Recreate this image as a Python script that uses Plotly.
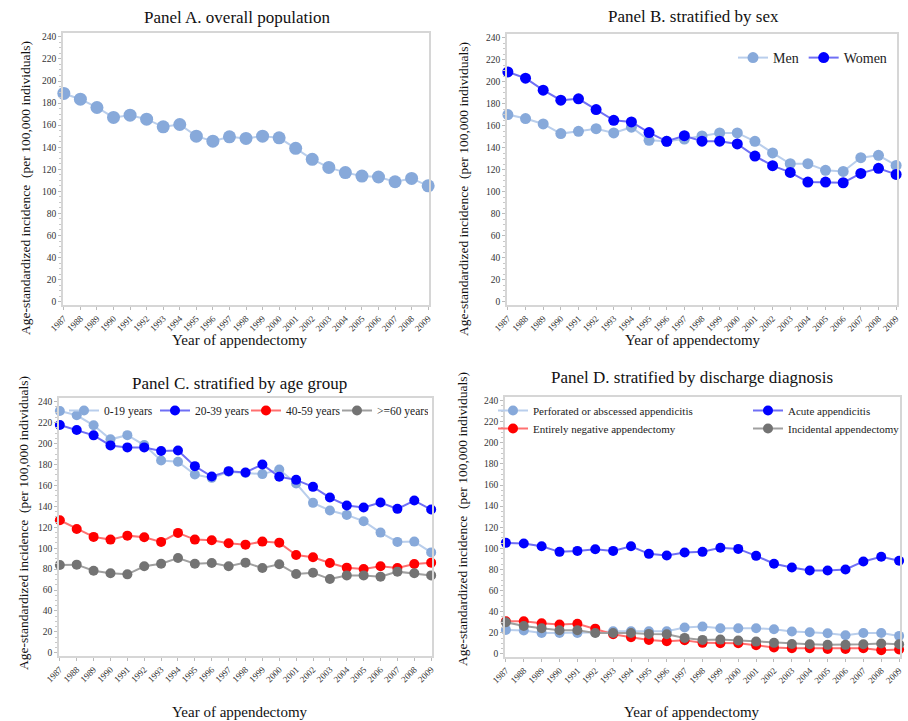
import plotly.graph_objects as go

years = list(range(1987, 2010))
year_labels = [str(y) for y in years]

# Panel A
overall = [188.7, 183.5, 176, 167, 169, 165.4, 158.5, 160.6, 150, 145.5, 149.4, 148, 150, 148.5,
           139, 129, 121.7, 117, 113.8, 113, 108.7, 111.7, 105]

# Panel B
men = [170.2, 166.6, 161.7, 152.9, 155, 157.4, 153.5, 158.7, 146.8, 145.9, 148, 150.8, 153.5, 153.5,
       145.9, 135.3, 125.5, 125.5, 119.5, 118.5, 131, 133.1, 124]
women = [209, 203.3, 192.4, 183.3, 184.5, 174.8, 165, 163.5, 153.8, 145.9, 151, 146, 146, 143.5,
         132.5, 123.7, 117.6, 108.8, 108.8, 108.2, 116.7, 121.3, 115.8]

# Panel C
age_0_19 = [231, 227, 217.4, 204, 208, 198.5, 183.8, 182.6, 170.4, 167.2, 173, 172, 170.8, 175.2,
            161.8, 143.3, 136, 131.8, 125.8, 114.9, 106, 106.3, 96]
age_20_39 = [217.7, 212.9, 207.8, 198.2, 196.3, 196.3, 192.8, 193.4, 178.4, 168.5, 173.6, 172.4, 180, 168.2,
             165.3, 158.6, 148.4, 140.8, 138.8, 143.6, 137.6, 145.5, 136.9]
age_40_59 = [126.7, 118.4, 110.8, 108.2, 112, 110.4, 106, 114.6, 108.2, 107.6, 104.7, 103.4, 106.3, 105.3,
             93.5, 91.3, 85.9, 81.4, 80.1, 82.7, 81.1, 84.9, 86.2]
age_60p = [83.9, 84.3, 78.5, 76, 75, 82.7, 85.2, 90.6, 85.2, 85.9, 82.7, 86.2, 81.1, 84.6,
           75.3, 76.6, 70.5, 74, 74, 72.8, 77.6, 76, 74]

# Panel D
perforated = [22.7, 22.1, 19.8, 19.8, 19.8, 20.2, 21.4, 21.4, 21.4, 21.4, 24.9, 25.8, 24.2, 24.2,
              24.2, 23.3, 21.1, 20.5, 19.5, 17.6, 19.8, 19.8, 17.0]
acute = [105.2, 104.6, 102, 96.7, 97.6, 99.2, 97.6, 102, 94.8, 93.2, 96, 96.7, 100.5, 99.5,
         92.9, 85.4, 81.9, 79, 79, 80, 87.6, 92, 88.2]
negative = [30.9, 30.9, 28.9, 27.7, 28.6, 23.9, 18.6, 15.7, 13.2, 12, 12.9, 10.4, 10.1, 10.1,
            8.2, 6.0, 5.4, 5.4, 4.7, 4.7, 5.4, 3.5, 4.1]
incidental = [30, 26.4, 24.2, 22.4, 22.4, 19.8, 19.8, 19.8, 18.9, 18.6, 15.1, 13.2, 13.5, 12.6,
              11.6, 10.4, 9.4, 9.1, 8.5, 8.5, 9.1, 9.8, 9.1]

LB_M, LB_L = "#87A9DA", "#B9CEEC"
B_M, B_L = "#0000FF", "#6F6FF5"
R_M, R_L = "#FF0000", "#FF7070"
G_M, G_L = "#737373", "#A0A0A0"

FONT = "Liberation Serif, Times New Roman, serif"

fig = go.Figure()

def add(y, name, mc, lc, xa, ya, size, legend=None, show=False):
    fig.add_trace(go.Scatter(
        x=years, y=y, name=name, mode="lines+markers",
        line=dict(color=lc, width=2),
        marker=dict(color=mc, size=size, line=dict(width=0)),
        xaxis=xa, yaxis=ya, showlegend=show, legend=legend, cliponaxis=False))

add(overall, "Overall", LB_M, LB_L, "x", "y", 13)
add(men, "Men", LB_M, LB_L, "x2", "y2", 11, "legend", True)
add(women, "Women", B_M, B_L, "x2", "y2", 11, "legend", True)
add(age_0_19, "0-19 years", LB_M, LB_L, "x3", "y3", 10, "legend2", True)
add(age_20_39, "20-39 years", B_M, B_L, "x3", "y3", 10, "legend2", True)
add(age_40_59, "40-59 years", R_M, R_L, "x3", "y3", 10, "legend2", True)
add(age_60p, ">=60 years", G_M, G_L, "x3", "y3", 10, "legend2", True)
add(perforated, "Perforated or abscessed appendicitis", LB_M, LB_L, "x4", "y4", 10, "legend3", True)
add(acute, "Acute appendicitis", B_M, B_L, "x4", "y4", 10, "legend3", True)
add(negative, "Entirely negative appendectomy", R_M, R_L, "x4", "y4", 10, "legend4", True)
add(incidental, "Incidental appendectomy", G_M, G_L, "x4", "y4", 10, "legend4", True)

W, H = 908, 721
domains = {
    "1": ([63 / W, 429 / W], [1 - 305 / H, 1 - 33 / H]),
    "2": ([507 / W, 897 / W], [1 - 305 / H, 1 - 34 / H]),
    "3": ([59 / W, 432 / W], [1 - 656 / H, 1 - 398 / H]),
    "4": ([505 / W, 900 / W], [1 - 657 / H, 1 - 397 / H]),
}

layout = dict(
    width=W, height=H, margin=dict(l=0, r=0, t=0, b=0, autoexpand=False),
    paper_bgcolor="white", plot_bgcolor="white",
    font=dict(family=FONT, color="#222222"),
)
for k, (dx, dy) in domains.items():
    sx = "" if k == "1" else k
    layout["xaxis" + sx] = dict(
        domain=dx, anchor="y" + sx, range=[1986.95, 2009.05],
        tickmode="array", tickvals=years, ticktext=year_labels, tickangle=-45,
        tickfont=dict(size=9, family=FONT, color="#333333"),
        showgrid=False, zeroline=False, showline=True, linecolor="#D6D6D6", linewidth=1.5, mirror=True,
        ticks="outside", ticklen=3, tickcolor="#BBBBBB", automargin=False)
    layout["yaxis" + sx] = dict(
        domain=dy, anchor="x" + sx, range=[-3, 243.5],
        tickmode="array", tickvals=list(range(0, 241, 20)),
        tickfont=dict(size=9.5, family=FONT, color="#333333"),
        showgrid=False, zeroline=False, showline=True, linecolor="#D6D6D6", linewidth=1.5, mirror=True,
        ticks="outside", ticklen=3, tickcolor="#BBBBBB", automargin=False,
        minor=dict(ticks="outside", ticklen=2, dtick=5, tickcolor="#C8C8C8"))

leg_common = dict(orientation="h", bgcolor="rgba(0,0,0,0)", itemwidth=30, tracegroupgap=0,
                  xanchor="left", yanchor="top")
layout["legend"] = dict(x=733 / W, y=1 - 42 / H,
                        font=dict(size=14, family=FONT, color="#222222"), **leg_common)
layout["legend2"] = dict(x=64 / W, y=1 - 396 / H, entrywidth=46,
                         font=dict(size=11.5, family=FONT, color="#222222"), **leg_common)
layout["legend3"] = dict(x=493 / W, y=1 - 396 / H, entrywidth=210,
                         font=dict(size=11, family=FONT, color="#222222"), **leg_common)
layout["legend4"] = dict(x=493 / W, y=1 - 414 / H, entrywidth=210,
                         font=dict(size=11, family=FONT, color="#222222"), **leg_common)

ytitle = "Age-standardized incidence  (per 100,000 individuals)"
ann = []
for (txt, x, y) in [("Panel A. overall population", 238, 18),
                    ("Panel B. stratified by sex", 693, 17),
                    ("Panel C. stratified by age group", 239, 383),
                    ("Panel D. stratified by discharge diagnosis", 692, 377)]:
    ann.append(dict(text=txt, x=x / W, y=1 - y / H, xref="paper", yref="paper", showarrow=False,
                    xanchor="center", yanchor="middle", font=dict(size=17, family=FONT, color="#111111")))
for (x, y) in [(240, 340), (693, 340), (240, 712), (692, 712)]:
    ann.append(dict(text="Year of appendectomy", x=x / W, y=1 - y / H, xref="paper", yref="paper",
                    showarrow=False, xanchor="center", yanchor="middle",
                    font=dict(size=15, family=FONT, color="#111111")))
for (x, y) in [(25, 188), (463, 189), (23, 523), (462, 519)]:
    ann.append(dict(text=ytitle, x=x / W, y=1 - y / H, xref="paper", yref="paper", showarrow=False,
                    textangle=-90, xanchor="center", yanchor="middle",
                    font=dict(size=13.5, family=FONT, color="#111111")))
layout["annotations"] = ann

fig.update_layout(**layout)
fig.write_html("out.html", config={"displayModeBar": False},
               post_script="document.body.style.margin='0px';document.body.style.overflow='hidden';")
